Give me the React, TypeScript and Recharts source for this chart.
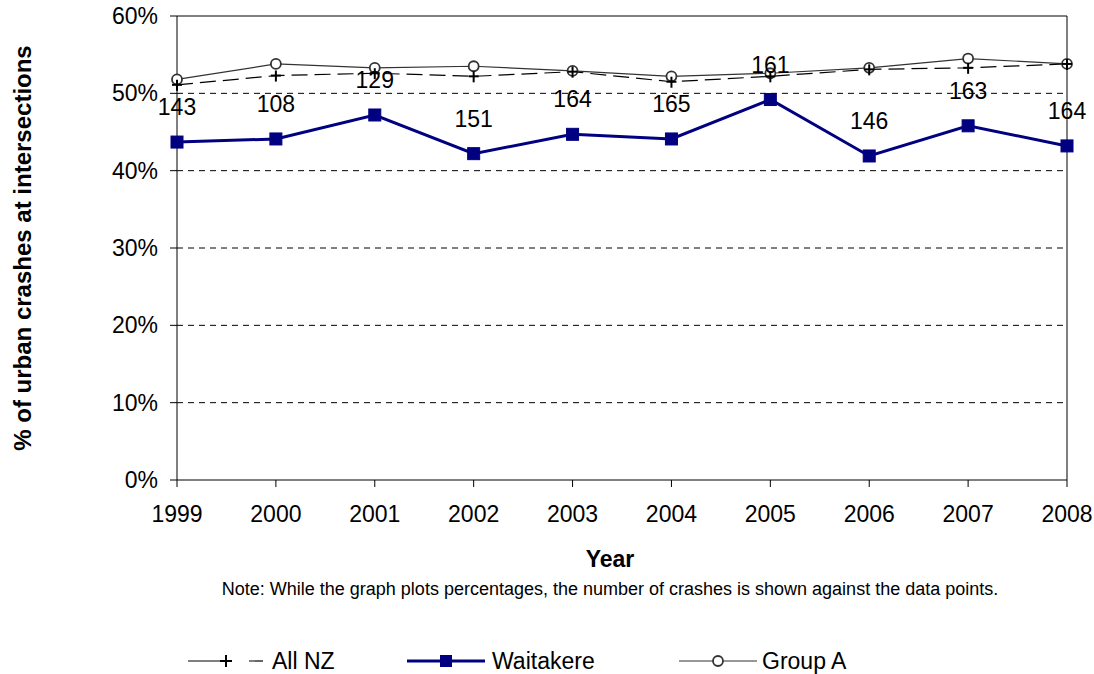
import React from 'react';
import {
  LineChart,
  Line,
  XAxis,
  YAxis,
  CartesianGrid,
  ReferenceLine,
  Legend,
  LabelList,
} from 'recharts';

const years = [1999, 2000, 2001, 2002, 2003, 2004, 2005, 2006, 2007, 2008];
const allNZ = [51.1, 52.3, 52.6, 52.2, 52.8, 51.5, 52.2, 53.1, 53.3, 53.8];
const waitakere = [43.7, 44.1, 47.2, 42.2, 44.7, 44.1, 49.2, 41.9, 45.8, 43.2];
const groupA = [51.8, 53.8, 53.3, 53.5, 52.9, 52.2, 52.6, 53.3, 54.5, 53.8];
const crashCounts = [143, 108, 129, 151, 164, 165, 161, 146, 163, 164];
const yTicks = [0, 10, 20, 30, 40, 50, 60];

const data = years.map((year, i) => ({
  year,
  allNZ: allNZ[i],
  waitakere: waitakere[i],
  groupA: groupA[i],
  crashes: crashCounts[i],
}));

const FONT = '"Liberation Sans", Arial, sans-serif';
const NAVY = '#000080';

const PlusDot = (props: any) => {
  const { cx, cy, index } = props;
  if (cx == null || cy == null) return <g key={`p${index}`} />;
  return (
    <g key={`p${index}`}>
      <line x1={cx - 5} y1={cy} x2={cx + 5} y2={cy} stroke="#000" strokeWidth={2} />
      <line x1={cx} y1={cy - 5} x2={cx} y2={cy + 6} stroke="#000" strokeWidth={2} />
    </g>
  );
};

const CircleDot = (props: any) => {
  const { cx, cy, index } = props;
  if (cx == null || cy == null) return <g key={`c${index}`} />;
  return <circle key={`c${index}`} cx={cx} cy={cy} r={5} fill="#fff" stroke="#333" strokeWidth={1.8} />;
};

const SquareDot = (props: any) => {
  const { cx, cy, index } = props;
  if (cx == null || cy == null) return <g key={`s${index}`} />;
  return <rect key={`s${index}`} x={cx - 6} y={cy - 6} width={12} height={12} fill={NAVY} stroke={NAVY} />;
};

const CountLabel = (props: any) => {
  const { x, y, value } = props;
  return (
    <text x={x} y={y - 27} textAnchor="middle" fontSize={23} fontFamily={FONT} fill="#000">
      {value}
    </text>
  );
};

const LegendContent = () => (
  <svg width={1094} height={40} style={{ display: 'block' }}>
    <g fontFamily={FONT} fontSize={23} fill="#000">
      <line x1={188} y1={27} x2={263} y2={27} stroke="#000" strokeWidth={1.2} strokeDasharray="34 27" />
      <line x1={220} y1={27} x2={232} y2={27} stroke="#000" strokeWidth={2} />
      <line x1={226} y1={21} x2={226} y2={33} stroke="#000" strokeWidth={2} />
      <text x={272} y={35}>All NZ</text>

      <line x1={407} y1={27} x2={485} y2={27} stroke={NAVY} strokeWidth={3} />
      <rect x={440} y={21} width={12} height={12} fill={NAVY} />
      <text x={492} y={35}>Waitakere</text>

      <line x1={679} y1={27} x2={757} y2={27} stroke="#333" strokeWidth={1.2} />
      <circle cx={718} cy={27} r={5} fill="#fff" stroke="#333" strokeWidth={1.8} />
      <text x={762} y={35}>Group A</text>
    </g>
  </svg>
);

const XTitle = (props: any) => {
  const { viewBox } = props;
  const cx = viewBox.x + viewBox.width / 2;
  return (
    <g fontFamily={FONT} fill="#000">
      <text x={cx - 12} y={567} textAnchor="middle" fontSize={23} fontWeight="bold">
        Year
      </text>
      <text x={cx - 12} y={595} textAnchor="middle" fontSize={18}>
        Note: While the graph plots percentages, the number of crashes is shown against the data points.
      </text>
    </g>
  );
};

const YTitle = () => (
  <text
    x={22}
    y={248}
    transform="rotate(-90 22 248)"
    textAnchor="middle"
    dominantBaseline="central"
    fontFamily={FONT}
    fontSize={24}
    fontWeight="bold"
    fill="#000"
  >
    % of urban crashes at intersections
  </text>
);

export default function App() {
  return (
    <div style={{ position: 'absolute', left: 0, top: 0, width: 1094, height: 674, background: '#fff' }}>
      <LineChart
        width={1094}
        height={674}
        data={data}
        margin={{ top: 16, right: 27, bottom: 0, left: 0 }}
      >
        <CartesianGrid
          horizontal={true}
          vertical={false}
          stroke="#000"
          strokeDasharray="6 5"
          horizontalValues={[10, 20, 30, 40, 50]}
        />
        <ReferenceLine y={60} stroke="#000" strokeWidth={1} />
        <ReferenceLine x={2008} stroke="#000" strokeWidth={1} />
        <XAxis
          dataKey="year"
          type="number"
          domain={[1999, 2008]}
          ticks={years}
          interval={0}
          height={154}
          tickSize={7}
          tickMargin={19}
          axisLine={{ stroke: '#000', strokeWidth: 1 }}
          tickLine={{ stroke: '#000', strokeWidth: 1 }}
          tick={{ fill: '#000', fontSize: 23, fontFamily: FONT }}
          label={<XTitle />}
        />
        <YAxis
          type="number"
          domain={[0, 60]}
          ticks={yTicks}
          interval={0}
          width={177}
          tickSize={7}
          tickMargin={12}
          tickFormatter={(v: number) => `${v}%`}
          axisLine={{ stroke: '#000', strokeWidth: 1 }}
          tickLine={{ stroke: '#000', strokeWidth: 1 }}
          tick={{ fill: '#000', fontSize: 23, fontFamily: FONT }}
          label={<YTitle />}
        />
        <Legend verticalAlign="bottom" height={40} content={<LegendContent />} wrapperStyle={{ left: 0, width: 1094 }} />
        <Line
          type="linear"
          dataKey="groupA"
          name="Group A"
          stroke="#333"
          strokeWidth={1.2}
          dot={CircleDot}
          activeDot={false}
          isAnimationActive={false}
        />
        <Line
          type="linear"
          dataKey="allNZ"
          name="All NZ"
          stroke="#000"
          strokeWidth={1.2}
          strokeDasharray="16 7"
          dot={PlusDot}
          activeDot={false}
          isAnimationActive={false}
        />
        <Line
          type="linear"
          dataKey="waitakere"
          name="Waitakere"
          stroke={NAVY}
          strokeWidth={3}
          dot={SquareDot}
          activeDot={false}
          isAnimationActive={false}
        >
          <LabelList dataKey="crashes" content={CountLabel} />
        </Line>
      </LineChart>
    </div>
  );
}
